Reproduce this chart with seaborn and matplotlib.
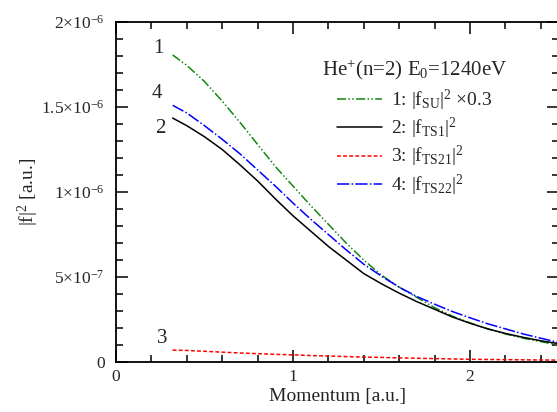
import matplotlib
matplotlib.use("Agg")
import matplotlib.pyplot as plt
import seaborn as sns
import numpy as np
import pandas as pd
from matplotlib.ticker import MultipleLocator

# Data (values in units of 1e-6 a.u.)
momentum = [0.32, 0.4, 0.5, 0.6, 0.7, 0.8, 0.9, 1.0, 1.1, 1.2, 1.3, 1.4,
            1.5, 1.6, 1.7, 1.8, 1.9, 2.0, 2.1, 2.2, 2.3, 2.4, 2.5]
f_su = [1.806, 1.745, 1.65, 1.535, 1.41, 1.28, 1.15, 1.035, 0.92, 0.81, 0.70, 0.60,
        0.51, 0.44, 0.38, 0.32, 0.27, 0.23, 0.195, 0.165, 0.14, 0.12, 0.10]
f_ts1 = [1.435, 1.39, 1.325, 1.25, 1.16, 1.065, 0.96, 0.86, 0.77, 0.68, 0.60, 0.52,
         0.46, 0.405, 0.355, 0.31, 0.265, 0.228, 0.195, 0.168, 0.145, 0.125, 0.108]
f_ts21 = [0.07, 0.068, 0.063, 0.058, 0.053, 0.049, 0.045, 0.042, 0.038, 0.035, 0.032, 0.029,
          0.027, 0.024, 0.022, 0.020, 0.018, 0.016, 0.015, 0.014, 0.013, 0.012, 0.011]
f_ts22 = [1.51, 1.465, 1.39, 1.31, 1.225, 1.13, 1.035, 0.935, 0.84, 0.75, 0.66, 0.575,
          0.505, 0.44, 0.385, 0.34, 0.297, 0.26, 0.225, 0.195, 0.165, 0.14, 0.115]

labels = [r"1: |f$_{\mathrm{SU}}$|$^{2}$ ×0.3",
          r"2: |f$_{\mathrm{TS1}}$|$^{2}$",
          r"3: |f$_{\mathrm{TS21}}$|$^{2}$",
          r"4: |f$_{\mathrm{TS22}}$|$^{2}$"]
ytick_vals = [0, 0.5e-6, 1e-6, 1.5e-6, 2e-6]
ytick_labels = ["0", r"5×10$^{-7}$", r"1×10$^{-6}$", r"1.5×10$^{-6}$", r"2×10$^{-6}$"]
xtick_vals = [0, 1, 2]

sns.set_theme(style="ticks")
plt.rcParams['font.family'] = ['Liberation Serif', 'DejaVu Serif']
plt.rcParams['mathtext.fontset'] = 'custom'
plt.rcParams['mathtext.rm'] = 'Liberation Serif'
plt.rcParams['mathtext.it'] = 'Liberation Serif:italic'
plt.rcParams['mathtext.bf'] = 'Liberation Serif:bold'

df = pd.DataFrame({"x": momentum,
                   "su": np.array(f_su) * 1e-6,
                   "ts1": np.array(f_ts1) * 1e-6,
                   "ts21": np.array(f_ts21) * 1e-6,
                   "ts22": np.array(f_ts22) * 1e-6})

fig = plt.figure(figsize=(5.57, 4.12), dpi=100)
ax = fig.add_axes([116/557, 50/412, 442.5/557, 340/412])

series = [("su", "#118811", (0, (6, 1.5, 1, 1.5, 1, 1.5))),
          ("ts1", "black", "-"),
          ("ts21", "red", (0, (2.5, 1.5))),
          ("ts22", "blue", (0, (8, 1.5, 1, 1.5)))]
for (col, color, ls), lab in zip(series, labels):
    sns.lineplot(data=df, x="x", y=col, color=color, ax=ax, label=lab,
                 estimator=None, sort=False, linewidth=1.1)
    ax.lines[-1].set_linestyle(ls)

ax.set_xlim(0, 2.5)
ax.set_ylim(0, 2e-6)
ax.set_xticks(xtick_vals)
ax.set_xticklabels([str(v) for v in xtick_vals])
ax.set_yticks(ytick_vals)
ax.set_yticklabels(ytick_labels)
ax.xaxis.set_minor_locator(MultipleLocator(0.2))
ax.yaxis.set_minor_locator(MultipleLocator(1e-7))
ax.tick_params(which='both', direction='in', top=True, right=True, labelsize=12.5, width=1.3)
ax.tick_params(axis='y', which='major', length=8.5, pad=8)
ax.tick_params(axis='x', which='major', length=8.5, pad=5)
ax.tick_params(which='minor', length=5)
for sp in ax.spines.values():
    sp.set_linewidth(1.3)
    sp.set_color('black')

ax.set_xlabel("Momentum [a.u.]", fontsize=14, labelpad=2)
ax.set_ylabel(r"|f|$^{2}$ [a.u.]", fontsize=14, labelpad=0)

# curve numbers
ax.text(0.237, 1.847e-6, "1", fontsize=15, ha='center', va='center')
ax.text(0.232, 1.58e-6, "4", fontsize=15, ha='center', va='center')
ax.text(0.25, 1.375e-6, "2", fontsize=15, ha='center', va='center')
ax.text(0.26, 0.14e-6, "3", fontsize=15, ha='center', va='center')

leg = ax.legend(title=r"He$^{+}$(n=2) E$_{0}$=1240eV", frameon=False,
                fontsize=14, title_fontsize=15, handlelength=2.3,
                handletextpad=0.45, labelspacing=0.16, borderaxespad=0,
                loc='upper left', bbox_to_anchor=(198/442.5, 1 - 28/340))
leg._legend_box.sep = 4

fig.savefig("out.png", dpi=100)
